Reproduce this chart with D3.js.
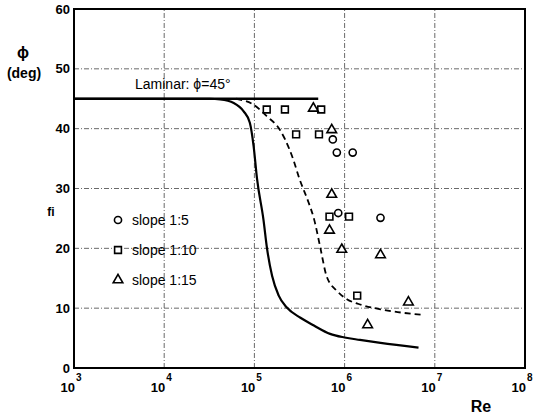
<!DOCTYPE html>
<html>
<head>
<meta charset="utf-8">
<script src="https://cdn.jsdelivr.net/npm/d3@7"></script>
<style>
  body { margin: 0; background: #fff; }
  text { font-family: "Liberation Sans", Arial, sans-serif; fill: #000; }
</style>
</head>
<body>
<div id="chart"></div>
<script>
// solid curve (phi vs Re)
const solidRe  = [1e3, 3.2e4, 4.17e4, 5.9e4, 7.6e4, 8.9e4, 9.8e4, 1.07e5, 1.26e5, 1.38e5, 1.57e5, 1.86e5, 2.29e5, 3.24e5, 4.57e5, 6.9e5, 1.0e6, 1.48e6, 2.5e6, 6.6e6];
const solidPhi = [45, 45, 44.9, 44.3, 42.9, 41, 37.1, 31.6, 24.8, 20, 15.4, 12.1, 10.1, 8.4, 7.1, 5.7, 5.1, 4.7, 4.2, 3.4];

// dashed curve
const dashRe  = [6.3e4, 9.8e4, 1.37e5, 1.9e5, 2.19e5, 2.69e5, 3.16e5, 3.98e5, 4.6e5, 5.4e5, 6.3e5, 8.2e5, 1.06e6, 1.43e6, 2.75e6, 7.2e6];
const dashPhi = [45, 44, 42.1, 39.9, 38.2, 34.9, 31.6, 27.7, 24.8, 20, 15.4, 12.9, 11.5, 10.7, 9.7, 8.9];

// measurements
const slope5Re   = [7.4e5, 8.2e5, 1.23e6, 8.5e5, 2.5e6];
const slope5Phi  = [38.2, 36.0, 36.0, 25.9, 25.1];
const slope10Re  = [1.37e5, 2.18e5, 5.5e5, 2.9e5, 5.2e5, 6.8e5, 1.12e6, 1.38e6];
const slope10Phi = [43.2, 43.2, 43.2, 39.05, 39.05, 25.3, 25.3, 12.1];
const slope15Re  = [4.5e5, 7.2e5, 7.2e5, 6.8e5, 9.3e5, 2.5e6, 5.1e6, 1.8e6];
const slope15Phi = [43.4, 39.8, 29.0, 23.0, 19.8, 18.9, 11.0, 7.2];

// laminar line
const laminarRe = [1e3, 5.1e5];
const laminarPhi = 45;

const xTicks = [1e3, 1e4, 1e5, 1e6, 1e7, 1e8];
const yTicks = [0, 10, 20, 30, 40, 50, 60];

const width = 534, height = 415;
const margin = { top: 9, right: 9, bottom: 47, left: 74 };

const svg = d3.select("#chart")
  .append("svg")
    .attr("width", width)
    .attr("height", height);

const x = d3.scaleLog()
    .domain([1e3, 1e8])
    .range([margin.left, width - margin.right]);
const y = d3.scaleLinear()
    .domain([0, 60])
    .range([height - margin.bottom, margin.top]);

// grid
const grid = svg.append("g")
    .attr("stroke", "#444")
    .attr("stroke-width", 0.8)
    .attr("stroke-dasharray", "5,2,1,2");
grid.selectAll("line.v")
  .data(xTicks.slice(1, -1))
  .enter().append("line")
    .attr("x1", d => x(d)).attr("x2", d => x(d))
    .attr("y1", y(0)).attr("y2", y(60));
grid.selectAll("line.h")
  .data(yTicks.slice(1, -1))
  .enter().append("line")
    .attr("x1", x(1e3)).attr("x2", x(1e8))
    .attr("y1", d => y(d)).attr("y2", d => y(d));

// y tick labels
svg.append("g").selectAll("text")
  .data(yTicks)
  .enter().append("text")
    .attr("x", x(1e3) - 4)
    .attr("y", d => y(d) + 4.5)
    .attr("text-anchor", "end")
    .style("font-size", "13px")
    .style("font-weight", "bold")
    .text(d => d);

// x tick labels: 10^n
const xl = svg.append("g").selectAll("text")
  .data(xTicks)
  .enter().append("text")
    .attr("x", d => x(d) - 3)
    .attr("y", 392)
    .attr("text-anchor", "middle")
    .style("font-size", "13px")
    .style("font-weight", "bold");
xl.append("tspan").text("10");
xl.append("tspan")
    .attr("dy", -11)
    .attr("dx", 1)
    .style("font-size", "10px")
    .text(d => Math.round(Math.log10(d)));

// laminar line
svg.append("line")
    .attr("x1", x(laminarRe[0])).attr("x2", x(laminarRe[1]))
    .attr("y1", y(laminarPhi)).attr("y2", y(laminarPhi))
    .attr("stroke", "#000")
    .attr("stroke-width", 2.5);

svg.append("text")
    .attr("x", 135).attr("y", 89)
    .style("font-size", "14px")
    .text("Laminar: \u03D5=45\u00B0");

// curves
const line = d3.line()
    .x(d => x(d[0]))
    .y(d => y(d[1]))
    .curve(d3.curveMonotoneX);

svg.append("path")
    .datum(d3.zip(solidRe, solidPhi))
    .attr("d", line)
    .attr("fill", "none")
    .attr("stroke", "#000")
    .attr("stroke-width", 2.2);

svg.append("path")
    .datum(d3.zip(dashRe, dashPhi))
    .attr("d", line)
    .attr("fill", "none")
    .attr("stroke", "#000")
    .attr("stroke-width", 1.8)
    .attr("stroke-dasharray", "6,4");

// markers
const circleSym = d3.symbol().type(d3.symbolCircle).size(40);
const squareSym = d3.symbol().type(d3.symbolSquare).size(46);
const triSym = d3.symbol().type(d3.symbolTriangle).size(40);

function drawMarkers(res, phis, sym) {
  svg.append("g").selectAll("path")
    .data(d3.zip(res, phis))
    .enter().append("path")
      .attr("d", sym)
      .attr("transform", d => `translate(${x(d[0])},${y(d[1])})`)
      .attr("fill", "#fff")
      .attr("stroke", "#000")
      .attr("stroke-width", 1.6);
}
drawMarkers(slope5Re, slope5Phi, circleSym);
drawMarkers(slope10Re, slope10Phi, squareSym);
drawMarkers(slope15Re, slope15Phi, triSym);

// legend
const legend = [
  { sym: circleSym, label: "slope 1:5", y: 220 },
  { sym: squareSym, label: "slope 1:10", y: 250 },
  { sym: triSym, label: "slope 1:15", y: 280 }
];
const lg = svg.append("g").selectAll("g")
  .data(legend)
  .enter().append("g")
    .attr("transform", d => `translate(118,${d.y})`);
lg.append("path")
    .attr("d", d => d.sym())
    .attr("fill", "#fff")
    .attr("stroke", "#000")
    .attr("stroke-width", 1.6);
lg.append("text")
    .attr("x", 14).attr("y", 5)
    .style("font-size", "14px")
    .text(d => d.label);

// frame
svg.append("rect")
    .attr("x", x(1e3)).attr("y", y(60))
    .attr("width", x(1e8) - x(1e3))
    .attr("height", y(0) - y(60))
    .attr("fill", "none")
    .attr("stroke", "#000")
    .attr("stroke-width", 2);

// axis labels
svg.append("text")
    .attr("x", 23).attr("y", 58)
    .attr("text-anchor", "middle")
    .style("font-size", "16px")
    .style("font-weight", "bold")
    .text("\u03D5");
svg.append("text")
    .attr("x", 24).attr("y", 78)
    .attr("text-anchor", "middle")
    .style("font-size", "14px")
    .style("font-weight", "bold")
    .text("(deg)");
svg.append("text")
    .attr("x", 51).attr("y", 216)
    .attr("text-anchor", "middle")
    .style("font-size", "12px")
    .style("font-weight", "bold")
    .text("fi");
svg.append("text")
    .attr("x", 481).attr("y", 412)
    .attr("text-anchor", "middle")
    .style("font-size", "16px")
    .style("font-weight", "bold")
    .text("Re");
</script>
</body>
</html>
